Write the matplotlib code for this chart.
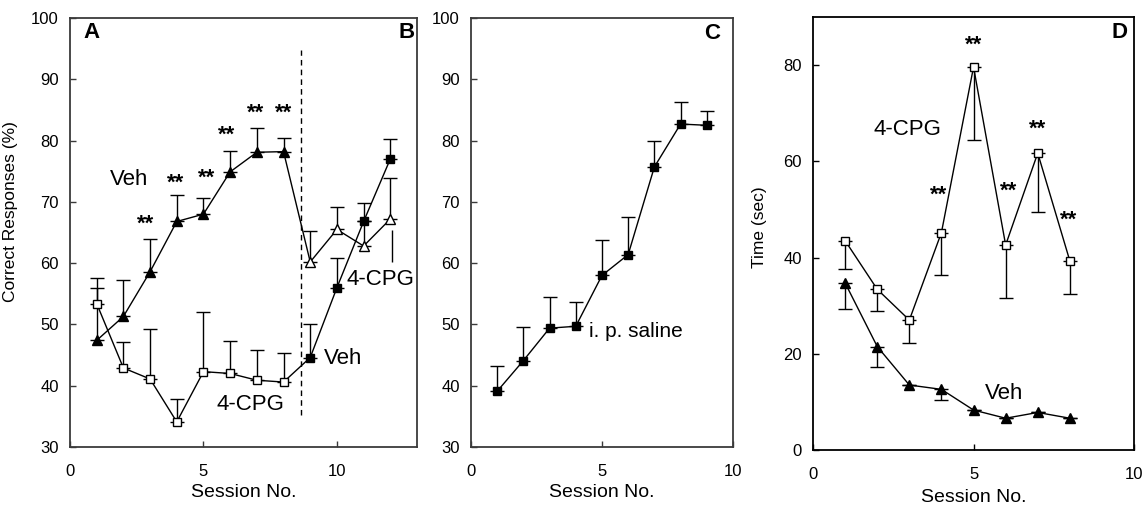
"""
Respuestas correctas (A, B, C) y tiempo (D) por sesión, 4-CPG vs vehículo.
"""

import matplotlib

matplotlib.use("Agg")
import matplotlib.pyplot as plt

plt.rcParams["font.family"] = ["Liberation Sans", "DejaVu Sans"]

# --- Panel A/B: sesiones 1-12 -------------------------------------------
sesiones_ab = list(range(1, 13))
veh_ab = [47.4, 51.3, 58.6, 66.8, 68.0, 74.9, 78.1, 78.2, 60.2, 65.5, 62.8, 67.2]
veh_ab_sup = [56.0, 57.2, 63.9, 71.1, 70.6, 78.3, 82.1, 80.5, 65.2, 69.1, 66.8, 73.9]
cpg_ab = [53.4, 42.9, 41.1, 34.1, 42.3, 42.0, 40.9, 40.6, 44.6, 56.0, 66.8, 77.0]
cpg_ab_sup = [57.6, 47.2, 49.3, 37.8, 52.0, 47.3, 45.8, 45.4, 50.0, 60.8, 69.9, 80.3]
estrellas_a_x = [2.85, 3.95, 5.1, 5.85, 6.95, 8.0]
estrellas_a_y = [66.4, 73.0, 73.8, 80.8, 84.4, 84.4]
corte_b = 8.64

# --- Panel C: solución salina i.p. --------------------------------------
sesiones_c = list(range(1, 10))
salina_c = [39.1, 44.1, 49.4, 49.7, 58.0, 61.4, 75.7, 82.7, 82.5]
salina_c_sup = [43.3, 49.6, 54.4, 53.7, 63.7, 67.6, 79.9, 86.3, 84.8]

# --- Panel D: tiempo ------------------------------------------------------
sesiones_d = list(range(1, 9))
cpg_d = [43.5, 33.4, 27.0, 45.2, 79.6, 42.6, 61.7, 39.3]
cpg_d_inf = [37.6, 28.8, 22.2, 36.3, 64.5, 31.6, 49.5, 32.5]
veh_d = [34.7, 21.5, 13.5, 12.6, 8.3, 6.6, 7.8, 6.6]
veh_d_inf = [29.3, 17.3, 13.5, 10.4, 8.3, 6.6, 7.8, 6.6]
estrellas_d_x = [3.9, 5.0, 6.1, 7.0, 7.95]
estrellas_d_y = [53.0, 84.2, 53.8, 66.7, 47.8]

TAM_TICK = 12
TAM_LABEL = 14
TAM_TEXTO = 16
TAM_ESTRELLA = 16


def _estilo(ax, color_spine="#3a3a3a"):
    for s in ax.spines.values():
        s.set_color(color_spine)
        s.set_linewidth(1.3)
    ax.tick_params(direction="in", length=4, width=1, colors=color_spine,
                   labelcolor="black", labelsize=TAM_TICK)
    ax.tick_params(axis="x", pad=12)
    ax.tick_params(axis="y", pad=8)


def _barras_arriba(ax, x, y, sup):
    err = [s - v for s, v in zip(sup, y)]
    ax.errorbar(x, y, yerr=[[0] * len(y), err], fmt="none", ecolor="black",
                elinewidth=1, capsize=5, capthick=1, zorder=2)


def _barras_abajo(ax, x, y, inf):
    err = [v - i for v, i in zip(y, inf)]
    ax.errorbar(x, y, yerr=[err, [0] * len(y)], fmt="none", ecolor="black",
                elinewidth=1, capsize=5, capthick=1, zorder=2)


def _estrellas(ax, xs, ys):
    for x, y in zip(xs, ys):
        ax.text(x, y, "**", ha="center", va="center",
                fontsize=TAM_ESTRELLA, fontweight="bold")


fig = plt.figure(figsize=(11.44, 5.11), dpi=100)

# ---------------------------------------------------------------------------
# A / B
# ---------------------------------------------------------------------------
ax = fig.add_axes([0.0612, 0.1252, 0.3033, 0.8395])
_barras_arriba(ax, sesiones_ab, veh_ab, veh_ab_sup)
_barras_arriba(ax, sesiones_ab, cpg_ab, cpg_ab_sup)
ax.plot(sesiones_ab, veh_ab, color="black", lw=1, zorder=3)
ax.plot(sesiones_ab, cpg_ab, color="black", lw=1, zorder=3)
ax.plot(sesiones_ab[:8], veh_ab[:8], "^", color="black", ms=7.5, zorder=4)
ax.plot(sesiones_ab[8:], veh_ab[8:], "^", mfc="white", mec="black", mew=1, ms=7.5, zorder=4)
ax.plot(sesiones_ab[:8], cpg_ab[:8], "s", mfc="white", mec="black", mew=1, ms=6, zorder=4)
ax.plot(sesiones_ab[8:], cpg_ab[8:], "s", color="black", ms=6, zorder=4)
_estrellas(ax, estrellas_a_x, estrellas_a_y)
ax.vlines(corte_b, 35.2, 94.8, colors="black", linestyles=(0, (4, 3)), lw=1)
ax.vlines(sesiones_ab[-1] + 0.07, 60.2, 65.4, colors="black", lw=1)
ax.text(0.8, 97.6, "A", fontsize=TAM_TEXTO, fontweight="bold", ha="center", va="center")
ax.text(12.6, 97.6, "B", fontsize=TAM_TEXTO, fontweight="bold", ha="center", va="center")
ax.text(2.2, 73.6, "Veh", fontsize=TAM_TEXTO, ha="center", va="center")
ax.text(6.75, 37.0, "4-CPG", fontsize=TAM_TEXTO, ha="center", va="center")
ax.text(9.5, 44.4, "Veh", fontsize=TAM_TEXTO, ha="left", va="center")
ax.text(12.92, 57.3, "4-CPG", fontsize=TAM_TEXTO, ha="right", va="center")
ax.set_xlim(0, 13)
ax.set_ylim(30, 100)
ax.set_xticks([0, 5, 10])
ax.set_yticks(range(30, 101, 10))
ax.set_xlabel("Session No.", fontsize=TAM_LABEL, labelpad=4)
ax.set_ylabel("Correct Responses (%)", fontsize=TAM_LABEL - 1.5)
ax.yaxis.set_label_coords(-0.15, 0.55)
_estilo(ax)

# ---------------------------------------------------------------------------
# C
# ---------------------------------------------------------------------------
ax = fig.add_axes([0.4117, 0.1252, 0.229, 0.8395])
_barras_arriba(ax, sesiones_c, salina_c, salina_c_sup)
ax.plot(sesiones_c, salina_c, "s-", color="black", lw=1, ms=6, zorder=4)
ax.text(9.2, 97.4, "C", fontsize=TAM_TEXTO, fontweight="bold", ha="center", va="center")
ax.text(4.5, 48.8, "i. p. saline", fontsize=TAM_TEXTO - 1, ha="left", va="center")
ax.set_xlim(0, 10)
ax.set_ylim(30, 100)
ax.set_xticks([0, 5, 10])
ax.set_yticks(range(30, 101, 10))
ax.set_xlabel("Session No.", fontsize=TAM_LABEL, labelpad=4)
_estilo(ax)

# ---------------------------------------------------------------------------
# D
# ---------------------------------------------------------------------------
ax = fig.add_axes([0.7107, 0.1194, 0.2806, 0.8474])
_barras_abajo(ax, sesiones_d, cpg_d, cpg_d_inf)
_barras_abajo(ax, sesiones_d, veh_d, veh_d_inf)
ax.plot(sesiones_d, cpg_d, "s-", color="black", mfc="white", mec="black",
        mew=1, lw=1, ms=6, zorder=4)
ax.plot(sesiones_d, veh_d, "^-", color="black", lw=1, ms=7.5, zorder=4)
_estrellas(ax, estrellas_d_x, estrellas_d_y)
ax.text(9.56, 86.7, "D", fontsize=TAM_TEXTO, fontweight="bold", ha="center", va="center")
ax.text(2.95, 66.6, "4-CPG", fontsize=TAM_TEXTO, ha="center", va="center")
ax.text(5.95, 11.8, "Veh", fontsize=TAM_TEXTO, ha="center", va="center")
ax.set_xlim(0, 10)
ax.set_ylim(0, 90)
ax.set_xticks([0, 5, 10])
ax.set_yticks(range(0, 81, 20))
ax.set_xlabel("Session No.", fontsize=TAM_LABEL, labelpad=5)
ax.set_ylabel("Time (sec)", fontsize=TAM_LABEL - 1.5)
ax.yaxis.set_label_coords(-0.143, 0.515)
_estilo(ax, color_spine="black")

fig.savefig("out.png", dpi=100)
